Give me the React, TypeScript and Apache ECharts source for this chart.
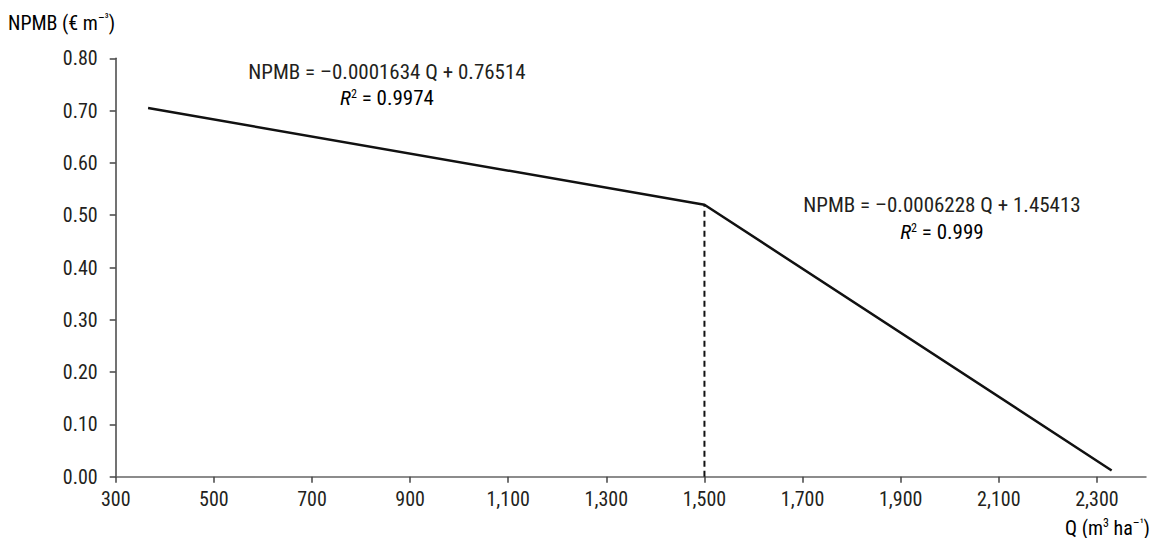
import React, { useEffect, useRef } from "react";
import * as echarts from "echarts";

const qValues = [366, 1500, 2330];
const npmbValues = [0.705, 0.52, 0.012];
const breakQ = 1500;
const breakNpmb = 0.52;
const xTickValues = [300, 500, 700, 900, 1100, 1300, 1500, 1700, 1900, 2100, 2300];
const yTickValues = [0, 0.1, 0.2, 0.3, 0.4, 0.5, 0.6, 0.7, 0.8];
const eq1 = { main: "NPMB = \u20130.0001634 Q + 0.76514", r2: "0.9974" };
const eq2 = { main: "NPMB = \u20130.0006228 Q + 1.45413", r2: "0.999" };

const FONT = "'Liberation Sans Narrow', 'Roboto Condensed', 'Liberation Sans', Arial, sans-serif";
const TXT = "#231f20";
const FS = 20;
const FS_EQ = 21;

export default function App() {
  const ref = useRef<HTMLDivElement>(null);
  useEffect(() => {
    if (!ref.current) return;
    const chart = echarts.init(ref.current, undefined, { renderer: "svg" });
    const grid = { left: 115.7, right: 10, top: 58.3, bottom: 61.3 };
    const supStyle = { fontSize: 12, fontFamily: FONT, color: TXT, padding: [0, 0, 9, 0] };
    const baseStyle = { fontSize: FS, fontFamily: FONT, color: TXT };
    const eqStyle = { fontSize: FS_EQ, fontFamily: FONT, color: TXT };
    const fmt = (v: number) => v.toLocaleString("en-US");
    chart.setOption({
      animation: false,
      grid,
      xAxis: {
        type: "value",
        min: 300,
        max: 2400,
        interval: 200,
        splitLine: { show: false },
        axisLine: { show: true, onZero: false, lineStyle: { color: "#666", width: 1.5 } },
        axisTick: { show: true, length: 6, customValues: xTickValues, lineStyle: { color: "#444", width: 1.5 } },
        axisLabel: {
          customValues: xTickValues,
          formatter: (v: number) => fmt(v),
          margin: 12,
          fontSize: FS,
          fontFamily: FONT,
          color: TXT,
        },
      },
      yAxis: {
        type: "value",
        min: 0,
        max: 0.8,
        interval: 0.1,
        splitLine: { show: false },
        axisLine: { show: true, lineStyle: { color: "#444", width: 1.5 } },
        axisTick: { show: true, length: 6, customValues: yTickValues, lineStyle: { color: "#444", width: 1.5 } },
        axisLabel: {
          customValues: yTickValues,
          formatter: (v: number) => v.toFixed(2),
          margin: 18,
          fontSize: FS,
          fontFamily: FONT,
          color: TXT,
        },
      },
      series: [
        {
          type: "line",
          data: qValues.map((q, i) => [q, npmbValues[i]]),
          symbol: "none",
          lineStyle: { color: "#111", width: 2.5 },
          z: 3,
        },
        {
          type: "line",
          data: [[breakQ, 0], [breakQ, breakNpmb]],
          symbol: "none",
          lineStyle: { color: "#111", width: 2, type: [6, 4] },
          z: 2,
        },
      ],
      graphic: [
        {
          type: "text",
          left: 8,
          top: 12,
          style: {
            text: "{b|NPMB (\u20ac m}{s|\u2013\u00b3}{b|)}",
            rich: { b: baseStyle, s: supStyle },
          },
        },
        {
          type: "text",
          right: 6,
          top: 517,
          style: {
            text: "{b|Q (m}{s|3}{b| ha}{s|\u2013\u00b9}{b|)}",
            rich: { b: baseStyle, s: supStyle },
          },
        },
        {
          type: "text",
          x: 387,
          y: 72,
          style: {
            text: eq1.main,
            align: "center",
            verticalAlign: "middle",
            fontSize: FS_EQ,
            fontFamily: FONT,
            fill: TXT,
          },
        },
        {
          type: "text",
          x: 387,
          y: 98,
          style: {
            text: "{i|R}{s|2}{b| = " + eq1.r2 + "}",
            align: "center",
            verticalAlign: "middle",
            rich: { b: eqStyle, s: supStyle, i: { ...eqStyle, fontStyle: "italic" } },
          },
        },
        {
          type: "text",
          x: 942,
          y: 205,
          style: {
            text: eq2.main,
            align: "center",
            verticalAlign: "middle",
            fontSize: FS_EQ,
            fontFamily: FONT,
            fill: TXT,
          },
        },
        {
          type: "text",
          x: 942,
          y: 232,
          style: {
            text: "{i|R}{s|2}{b| = " + eq2.r2 + "}",
            align: "center",
            verticalAlign: "middle",
            rich: { b: eqStyle, s: supStyle, i: { ...eqStyle, fontStyle: "italic" } },
          },
        },
      ],
    });
    return () => chart.dispose();
  }, []);
  return (
    <div
      ref={ref}
      style={{ position: "fixed", left: 0, top: 0, width: 1156, height: 538, background: "#fff" }}
    />
  );
}
